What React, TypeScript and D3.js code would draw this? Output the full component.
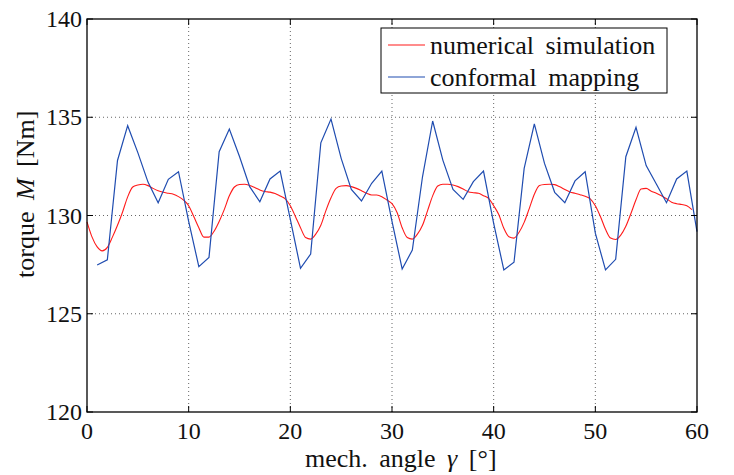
// @ts-nocheck
import React, { useEffect, useRef } from "react";
import * as d3 from "d3";

// numerical simulation, sampled every 0.5 deg
const simAngles = d3.range(0, 60, 0.5);
const simTorque = [
  129.68, 128.9, 128.4, 128.2, 128.38, 128.9, 129.5, 130.18, 130.95, 131.45,
  131.55, 131.59, 131.52, 131.38, 131.26, 131.18, 131.13, 131.08, 130.96, 130.78,
  130.5, 129.95, 129.38, 128.9, 128.9, 129.2, 129.7, 130.3, 131.0, 131.45,
  131.58, 131.59, 131.53, 131.42, 131.3, 131.22, 131.19, 131.12, 130.99, 130.85,
  130.5, 129.95, 129.38, 128.88, 128.8, 129.05, 129.5, 130.25, 130.9, 131.38,
  131.5, 131.52, 131.47, 131.38, 131.26, 131.13, 131.04, 131.04, 130.96, 130.79,
  130.6, 130.15, 129.38, 128.88, 128.8, 129.05, 129.5, 130.25, 131.0, 131.5,
  131.59, 131.59, 131.55, 131.47, 131.35, 131.21, 131.16, 131.13, 131.01, 130.87,
  130.5, 130.05, 129.35, 128.92, 128.85, 129.15, 129.65, 130.35, 131.08, 131.53,
  131.58, 131.59, 131.57, 131.46, 131.32, 131.2, 131.13, 131.06, 130.98, 130.85,
  130.5, 129.95, 129.3, 128.85, 128.78, 129.0, 129.45, 130.1, 130.8, 131.35,
  131.38, 131.24, 131.13, 131.0, 130.85, 130.68, 130.6, 130.56, 130.5, 130.3,
];

// conformal mapping, every 1 deg from 1 to 60
const cmAngles = d3.range(1, 61);
const cmTorque = [
  127.48, 127.74, 132.8, 134.57, 133.2, 131.7, 130.65, 131.84, 132.23, 129.7,
  127.4, 127.87, 133.25, 134.4, 133.0, 131.47, 130.7, 131.86, 132.26, 129.8,
  127.31, 128.04, 133.7, 134.91, 132.91, 131.33, 130.74, 131.64, 132.26, 129.7,
  127.28, 128.24, 131.97, 134.81, 132.82, 131.33, 130.82, 131.72, 132.26, 129.6,
  127.23, 127.62, 132.4, 134.66, 132.65, 131.18, 130.65, 131.76, 132.23, 129.1,
  127.23, 127.77, 132.99, 134.49, 132.54, 131.6, 130.65, 131.86, 132.26, 129.18,
];

const xTicks = [0, 10, 20, 30, 40, 50, 60];
const yTicks = [120, 125, 130, 135, 140];
const legendLabels = ["numerical simulation", "conformal mapping"];
const seriesColors = ["#ff1a1a", "#1f4cb0"];

const W = 734;
const H = 475;
const margin = { top: 19, right: 37, bottom: 63, left: 87 };
const FONT = "Liberation Serif, DejaVu Serif, serif";

export default function App() {
  const ref = useRef(null);

  useEffect(() => {
    const svg = d3.select(ref.current);
    svg.selectAll("*").remove();
    const iw = W - margin.left - margin.right;
    const ih = H - margin.top - margin.bottom;

    const x = d3.scaleLinear().domain([0, 60]).range([0, iw]);
    const y = d3.scaleLinear().domain([120, 140]).range([ih, 0]);

    const g = svg
      .append("g")
      .attr("transform", `translate(${margin.left},${margin.top})`);

    // grid
    g.selectAll(".gx")
      .data(xTicks.slice(1, -1))
      .enter()
      .append("line")
      .attr("x1", (d) => x(d))
      .attr("x2", (d) => x(d))
      .attr("y1", 0)
      .attr("y2", ih)
      .attr("stroke", "#666")
      .attr("stroke-width", 1)
      .attr("stroke-dasharray", "1,3");
    g.selectAll(".gy")
      .data(yTicks.slice(1, -1))
      .enter()
      .append("line")
      .attr("x1", 0)
      .attr("x2", iw)
      .attr("y1", (d) => y(d))
      .attr("y2", (d) => y(d))
      .attr("stroke", "#666")
      .attr("stroke-width", 1)
      .attr("stroke-dasharray", "1,3");

    // series
    const line = d3
      .line()
      .x((d) => x(d[0]))
      .y((d) => y(d[1]));
    g.append("path")
      .datum(d3.zip(simAngles, simTorque))
      .attr("fill", "none")
      .attr("stroke", seriesColors[0])
      .attr("stroke-width", 1.1)
      .attr("d", line.curve(d3.curveMonotoneX));
    g.append("path")
      .datum(d3.zip(cmAngles, cmTorque))
      .attr("fill", "none")
      .attr("stroke", seriesColors[1])
      .attr("stroke-width", 1.2)
      .attr("d", line.curve(d3.curveLinear));

    // frame + inner ticks
    g.append("rect")
      .attr("width", iw)
      .attr("height", ih)
      .attr("fill", "none")
      .attr("stroke", "#000")
      .attr("stroke-width", 1.3);
    const tl = 6;
    xTicks.forEach((t) => {
      g.append("line").attr("x1", x(t)).attr("x2", x(t)).attr("y1", ih).attr("y2", ih - tl).attr("stroke", "#000");
      g.append("line").attr("x1", x(t)).attr("x2", x(t)).attr("y1", 0).attr("y2", tl).attr("stroke", "#000");
    });
    yTicks.forEach((t) => {
      g.append("line").attr("x1", 0).attr("x2", tl).attr("y1", y(t)).attr("y2", y(t)).attr("stroke", "#000");
      g.append("line").attr("x1", iw).attr("x2", iw - tl).attr("y1", y(t)).attr("y2", y(t)).attr("stroke", "#000");
    });

    // tick labels
    g.selectAll(".xl")
      .data(xTicks)
      .enter()
      .append("text")
      .attr("x", (d) => x(d))
      .attr("y", ih + 27)
      .attr("text-anchor", "middle")
      .style("font-family", FONT)
      .attr("font-size", 24)
      .attr("fill", "#111")
      .text((d) => d);
    g.selectAll(".yl")
      .data(yTicks)
      .enter()
      .append("text")
      .attr("x", -5)
      .attr("y", (d) => y(d) + 8)
      .attr("text-anchor", "end")
      .style("font-family", FONT)
      .attr("font-size", 24)
      .attr("fill", "#111")
      .text((d) => d);

    // axis titles
    const xt = svg
      .append("text")
      .attr("x", 305)
      .attr("y", 467)
      .style("font-family", FONT)
      .attr("font-size", 26)
      .attr("word-spacing", 5)
      .attr("fill", "#111");
    xt.append("tspan").text("mech. angle ");
    xt.append("tspan").attr("font-style", "italic").text("γ");
    xt.append("tspan").text(" [°]");

    const yt = svg
      .append("text")
      .attr("transform", "translate(34,278) rotate(-90)")
      .style("font-family", FONT)
      .attr("font-size", 26)
      .attr("word-spacing", 5)
      .attr("fill", "#111");
    yt.append("tspan").text("torque ");
    yt.append("tspan").attr("font-style", "italic").text("M");
    yt.append("tspan").text(" [Nm]");

    // legend
    const lg = svg.append("g");
    lg.append("rect")
      .attr("x", 381)
      .attr("y", 28)
      .attr("width", 286)
      .attr("height", 65)
      .attr("fill", "#fff")
      .attr("stroke", "#000")
      .attr("stroke-width", 1);
    legendLabels.forEach((lab, i) => {
      const cy = 45 + i * 32;
      lg.append("line")
        .attr("x1", 388)
        .attr("x2", 425)
        .attr("y1", cy)
        .attr("y2", cy)
        .attr("stroke", seriesColors[i])
        .attr("stroke-width", 1.1);
      lg.append("text")
        .attr("x", 430)
        .attr("y", cy + 9)
        .style("font-family", FONT)
        .attr("font-size", 26)
        .attr("word-spacing", 5)
        .attr("fill", "#111")
        .text(lab);
    });
  }, []);

  return (
    <svg
      ref={ref}
      width={W}
      height={H}
      style={{ position: "absolute", left: 0, top: 0, background: "#fff" }}
    />
  );
}
